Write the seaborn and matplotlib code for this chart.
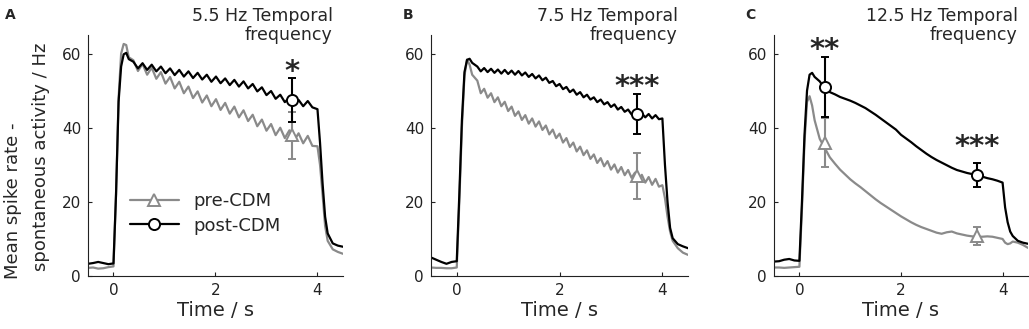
import pandas as pd
import seaborn as sns
import matplotlib.pyplot as plt
from matplotlib.lines import Line2D

sns.set_style("ticks")
plt.rcParams['font.family'] = ['DejaVu Sans']

# time grids (s) shared by the traces
pre_t = [-0.5, -0.4, -0.3, -0.2, -0.1, 0.0, 0.05, 0.10, 0.15, 0.20, 0.25, 0.30]
post_t = [4.0, 4.05, 4.1, 4.15, 4.2, 4.3, 4.4, 4.5]
time_a = pre_t + [round(0.39 + 0.09 * k, 2) for k in range(40)] + post_t
time_b = pre_t + [round(0.40 + k / 15, 3) for k in range(54)] + post_t
time_c = pre_t + [round(0.4 + 0.1 * k, 1) for k in range(36)] + post_t

# A: 5.5 Hz
post_a = [3.3, 3.5, 3.8, 3.5, 3.2, 3.4, 22, 47, 56.5, 59.8, 60.2, 58.5,
          57.8, 56.0, 57.4, 55.6, 57.0, 55.2, 56.5, 54.7, 56.0, 54.2,
          55.6, 53.8, 55.2, 53.4, 54.8, 53.0, 54.3, 52.4, 53.8, 52.0,
          53.3, 51.5, 52.9, 51.1, 52.5, 50.6, 51.8, 49.8, 50.9, 48.8,
          49.9, 47.8, 48.9, 46.9, 48.1, 46.2, 47.5, 45.8, 47.2, 45.5,
          45, 36, 25, 16, 11.5, 8.8, 8.2, 7.9]
pre_a = [2.2, 2.3, 2.0, 2.1, 2.4, 2.6, 22, 48, 60, 62.6, 62.3, 59.0,
         58.2, 55.3, 57.2, 54.3, 56.2, 53.2, 55.0, 51.9, 53.7, 50.6,
         52.4, 49.3, 51.1, 48.0, 49.8, 46.8, 48.7, 45.8, 47.7, 44.8,
         46.7, 43.8, 45.7, 42.8, 44.7, 41.8, 43.5, 40.4, 42.2, 39.2,
         41.0, 38.0, 40.0, 37.2, 39.3, 36.5, 38.5, 35.8, 37.8, 35.1,
         35, 30, 22, 13.5, 9.5, 7.2, 6.5, 6.0]

# B: 7.5 Hz
post_b = [5.0, 4.4, 3.8, 3.3, 3.8, 4.0, 22, 42, 55, 58.3, 58.6, 57.5,
          56.5, 55.2, 56.1, 55.0, 55.9, 54.8, 55.7, 54.6, 55.6, 54.5,
          55.4, 54.3, 55.3, 54.1, 54.9, 53.7, 54.5, 53.3, 54.1, 52.8,
          53.5, 52.1, 52.6, 51.2, 51.8, 50.4, 51.0, 49.6, 50.3, 48.9,
          49.6, 48.2, 48.9, 47.6, 48.2, 46.9, 47.6, 46.3, 46.9, 45.6,
          46.3, 44.9, 45.6, 44.3, 44.9, 43.6, 44.2, 43.0, 43.9, 42.8,
          43.7, 42.5, 43.4, 42.3,
          42.5, 30, 20, 13, 10.2, 8.6, 8.0, 7.5]
pre_b = [2.3, 2.2, 2.2, 2.1, 2.1, 2.3, 20, 40, 54, 58.4, 57.0, 54.3,
         52.7, 49.3, 50.5, 48.1, 49.3, 46.9, 48.2, 45.8, 47.0, 44.5,
         45.7, 43.2, 44.4, 42.1, 43.4, 41.1, 42.5, 40.3, 41.7, 39.4,
         40.6, 38.2, 39.5, 37.2, 38.4, 36.0, 37.2, 34.8, 36.0, 33.6,
         34.9, 32.6, 33.9, 31.6, 32.8, 30.5, 31.8, 29.6, 31.0, 28.7,
         30.1, 27.9, 29.4, 27.2, 28.6, 26.5, 27.9, 25.8, 27.3, 25.2,
         26.7, 24.6, 26.2, 24.1,
         24.5, 21, 16, 12, 9.5, 7.5, 6.3, 5.7]

# C: 12.5 Hz
post_c = [3.9, 4.0, 4.4, 4.6, 4.2, 4.1, 20, 38, 50, 54.3, 54.8, 53.7,
          52.5, 50.5, 49.6, 49.0, 48.3, 47.8, 47.3, 46.7, 46.0, 45.3,
          44.4, 43.5, 42.5, 41.5, 40.5, 39.5, 38.1, 37.1, 36.1, 35.0,
          34.0, 33.0, 32.1, 31.3, 30.6, 29.9, 29.2, 28.6, 28.2, 27.8,
          27.5, 27.2, 26.8, 26.4, 26.1, 25.7,
          25.2, 18.5, 14.5, 12.0, 10.8, 9.5, 9.0, 8.7]
pre_c = [2.3, 2.3, 2.2, 2.3, 2.4, 2.5, 18, 36, 47, 48.5, 46, 42,
         37.0, 34.5, 32.0, 30.3, 28.7, 27.4, 26.1, 25.0, 24.0, 22.9,
         21.8, 20.7, 19.7, 18.8, 17.9, 17.0, 16.1, 15.3, 14.5, 13.8,
         13.2, 12.7, 12.2, 11.7, 11.4, 11.8, 12.0, 11.5, 11.2, 10.9,
         10.7, 10.6, 10.6, 10.7, 10.6, 10.3,
         10.0, 9.0, 8.6, 8.8, 9.3, 9.0, 8.4, 7.6]

# mean +- error at the tested time points
err_t_a = [3.5]
pre_mean_a, pre_err_a = [38.0], [6.3]
post_mean_a, post_err_a = [47.5], [6.0]
err_t_b = [3.5]
pre_mean_b, pre_err_b = [27.0], [6.3]
post_mean_b, post_err_b = [43.8], [5.4]
err_t_c = [0.5, 3.5]
pre_mean_c, pre_err_c = [36.0, 10.8], [6.7, 2.5]
post_mean_c, post_err_c = [51.0, 27.3], [8.0, 3.2]

# significance marks (anchor sits a little below the glyph)
stars_a = [(3.5, 54.9, '*')]
stars_b = [(3.5, 50.9, '***')]
stars_c = [(0.5, 60.9, '**'), (3.5, 34.7, '***')]

titles = ['5.5 Hz Temporal\nfrequency', '7.5 Hz Temporal\nfrequency',
          '12.5 Hz Temporal\nfrequency']
letters = ['A', 'B', 'C']
letter_x = [-0.325, -0.11, -0.114]

GREY = '#8a8a8a'
BLACK = '#000000'


def draw_panel(ax, t, pre, post, et, pm, pe, qm, qe, stars):
    df = pd.DataFrame({'time': t + t,
                       'rate': pre + post,
                       'cond': ['pre-CDM'] * len(t) + ['post-CDM'] * len(t)})
    sns.lineplot(data=df, x='time', y='rate', hue='cond',
                 hue_order=['pre-CDM', 'post-CDM'],
                 palette={'pre-CDM': GREY, 'post-CDM': BLACK},
                 estimator=None, sort=False, legend=False, lw=1.6, ax=ax)
    ax.errorbar(et, pm, yerr=pe, fmt='^', color=GREY, mfc='white', mec=GREY,
                ms=9, mew=1.4, elinewidth=1.5, capsize=3, capthick=1.5, zorder=4)
    ax.errorbar(et, qm, yerr=qe, fmt='o', color=BLACK, mfc='white', mec=BLACK,
                ms=8, mew=1.4, elinewidth=1.5, capsize=3, capthick=1.5, zorder=5)
    for x, y, s in stars:
        ax.text(x, y, s, ha='center', va='center', fontsize=21,
                fontweight='bold', zorder=6)
    ax.set_xlim(-0.5, 4.5)
    ax.set_ylim(0, 65)
    ax.set_xticks([0, 2, 4])
    ax.set_yticks([0, 20, 40, 60])
    ax.tick_params(direction='in', length=3, width=0.8, labelsize=11,
                   pad=5, colors='#222222')
    ax.set_xlabel('Time / s', fontsize=14, labelpad=2)
    ax.set_ylabel('')
    for side in ['top', 'right']:
        ax.spines[side].set_visible(False)
    for side in ['left', 'bottom']:
        ax.spines[side].set_linewidth(0.8)
        ax.spines[side].set_color('#222222')


fig = plt.figure(figsize=(10.29, 3.29), dpi=100)
rects = [[0.0855, 0.161, 0.2478, 0.7325],
         [0.4189, 0.161, 0.2498, 0.7325],
         [0.7522, 0.161, 0.2468, 0.7325]]
axes = [fig.add_axes(r) for r in rects]

draw_panel(axes[0], time_a, pre_a, post_a, err_t_a, pre_mean_a, pre_err_a,
           post_mean_a, post_err_a, stars_a)
draw_panel(axes[1], time_b, pre_b, post_b, err_t_b, pre_mean_b, pre_err_b,
           post_mean_b, post_err_b, stars_b)
draw_panel(axes[2], time_c, pre_c, post_c, err_t_c, pre_mean_c, pre_err_c,
           post_mean_c, post_err_c, stars_c)

# two-line y label, the lines are offset from each other in the original
fig.text(13 / 1029, 1 - 201 / 329, 'Mean spike rate -', rotation=90,
         ha='center', va='center', fontsize=13)
fig.text(41 / 1029, 1 - 157 / 329, 'spontaneous activity / Hz', rotation=90,
         ha='center', va='center', fontsize=13)

for ax, title, letter, lx in zip(axes, titles, letters, letter_x):
    ax.text(0.96, 1.118, title, transform=ax.transAxes, ha='right', va='top',
            fontsize=12.5, linespacing=1.1)
    ax.text(lx, 1.083, letter, transform=ax.transAxes, ha='left',
            va='center', fontsize=10, fontweight='bold')

handles = [Line2D([], [], color=GREY, lw=1.6, marker='^', ms=9, mfc='white',
                  mec=GREY, mew=1.4),
           Line2D([], [], color=BLACK, lw=1.6, marker='o', ms=8, mfc='white',
                  mec=BLACK, mew=1.4)]
axes[0].legend(handles, ['pre-CDM', 'post-CDM'], loc='center left',
               bbox_to_anchor=(0.165, 0.26), frameon=False, fontsize=13,
               handlelength=2.7, handletextpad=0.8, borderpad=0,
               borderaxespad=0, labelspacing=0.35)

fig.savefig('out.png', dpi=100)
